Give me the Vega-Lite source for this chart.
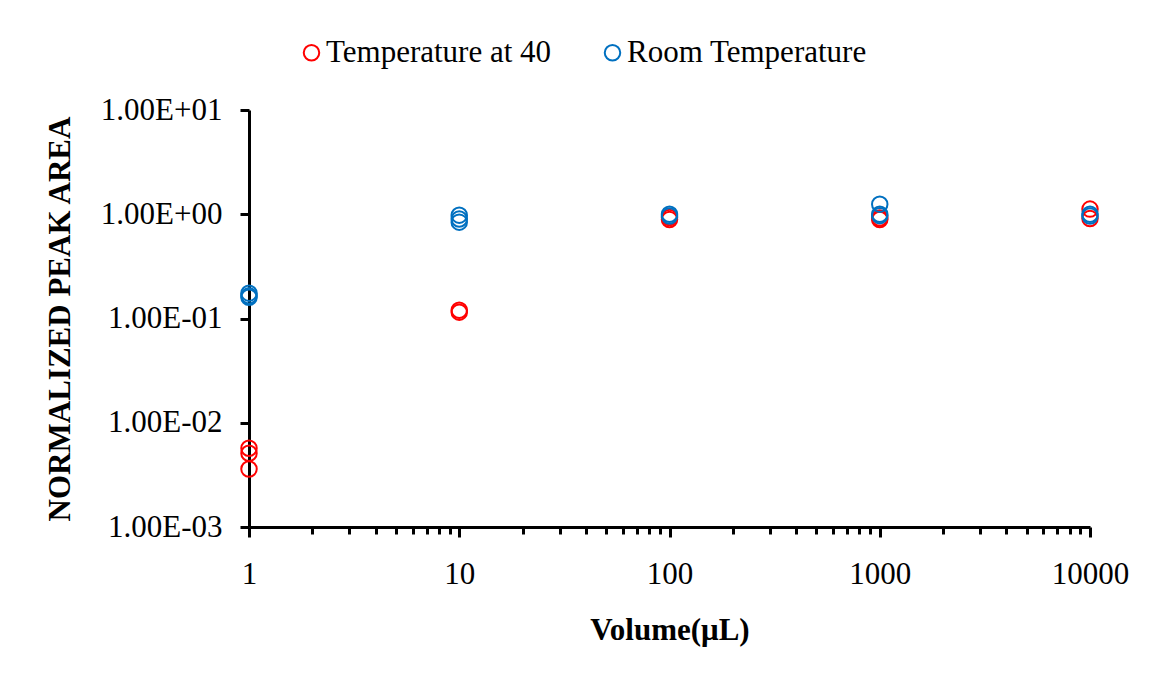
{
  "$schema": "https://vega.github.io/schema/vega-lite/v6.json",
  "autosize": "none",
  "width": 841,
  "height": 417,
  "padding": {"left": 249, "top": 110, "right": 60, "bottom": 150},
  "background": "white",
  "config": {
    "view": {"stroke": null},
    "font": "Liberation Serif",
    "axis": {
      "grid": false,
      "domainColor": "black",
      "domainWidth": 3,
      "tickColor": "black",
      "tickWidth": 3,
      "labelFont": "Liberation Serif",
      "labelFontSize": 31,
      "labelColor": "black",
      "titleFont": "Liberation Serif",
      "titleFontSize": 31,
      "titleFontWeight": "bold",
      "titleColor": "black"
    },
    "legend": {
      "labelFont": "Liberation Serif",
      "labelFontSize": 31,
      "labelColor": "black",
      "labelLimit": 0
    }
  },
  "data": {
    "values": [
      {"series": "Temperature at 40", "volume": 1, "area": 0.0057},
      {"series": "Temperature at 40", "volume": 1, "area": 0.0051},
      {"series": "Temperature at 40", "volume": 1, "area": 0.0036},
      {"series": "Temperature at 40", "volume": 10, "area": 0.12},
      {"series": "Temperature at 40", "volume": 10, "area": 0.115},
      {"series": "Temperature at 40", "volume": 100, "area": 0.93},
      {"series": "Temperature at 40", "volume": 100, "area": 0.89},
      {"series": "Temperature at 40", "volume": 1000, "area": 0.92},
      {"series": "Temperature at 40", "volume": 1000, "area": 0.89},
      {"series": "Temperature at 40", "volume": 10000, "area": 1.12},
      {"series": "Temperature at 40", "volume": 10000, "area": 0.91},
      {"series": "Room Temperature", "volume": 1, "area": 0.175},
      {"series": "Room Temperature", "volume": 1, "area": 0.165},
      {"series": "Room Temperature", "volume": 1, "area": 0.16},
      {"series": "Room Temperature", "volume": 10, "area": 0.98},
      {"series": "Room Temperature", "volume": 10, "area": 0.9},
      {"series": "Room Temperature", "volume": 10, "area": 0.84},
      {"series": "Room Temperature", "volume": 100, "area": 1.0},
      {"series": "Room Temperature", "volume": 100, "area": 0.96},
      {"series": "Room Temperature", "volume": 1000, "area": 1.25},
      {"series": "Room Temperature", "volume": 1000, "area": 1.0},
      {"series": "Room Temperature", "volume": 1000, "area": 0.97},
      {"series": "Room Temperature", "volume": 10000, "area": 1.0},
      {"series": "Room Temperature", "volume": 10000, "area": 0.96}
    ]
  },
  "mark": {"type": "point", "shape": "circle", "filled": false, "size": 240, "strokeWidth": 2, "opacity": 1, "clip": false},
  "encoding": {
    "x": {
      "field": "volume",
      "type": "quantitative",
      "scale": {"type": "log", "domain": [1, 10000], "nice": false},
      "axis": {
        "title": "Volume(μL)",
        "values": [1, 2, 3, 4, 5, 6, 7, 8, 9, 10, 20, 30, 40, 50, 60, 70, 80, 90, 100, 200, 300, 400, 500, 600, 700, 800, 900, 1000, 2000, 3000, 4000, 5000, 6000, 7000, 8000, 9000, 10000],
        "format": "d",
        "labelExpr": "indexof([1, 10, 100, 1000, 10000], datum.value) >= 0 ? datum.label : ''",
        "tickSize": {"condition": {"test": "indexof([1, 10, 100, 1000, 10000], datum.value) >= 0", "value": 10}, "value": 7},
        "labelPadding": 22,
        "labelFlush": false,
        "labelOverlap": false,
        "titlePadding": 26
      }
    },
    "y": {
      "field": "area",
      "type": "quantitative",
      "scale": {"type": "log", "domain": [0.001, 10], "nice": false},
      "axis": {
        "title": "NORMALIZED PEAK AREA",
        "values": [0.001, 0.01, 0.1, 1, 10],
        "labelExpr": "'1.00E' + (round(log(datum.value) / LN10) < 0 ? '-' : '+') + '0' + abs(round(log(datum.value) / LN10))",
        "tickSize": 9,
        "labelPadding": 18,
        "labelFlush": false,
        "titlePadding": 24
      }
    },
    "color": {
      "field": "series",
      "type": "nominal",
      "scale": {"domain": ["Temperature at 40", "Room Temperature"], "range": ["#FF0000", "#0070C0"]},
      "legend": {
        "title": null,
        "orient": "none",
        "direction": "horizontal",
        "legendX": 47,
        "legendY": -73,
        "symbolType": "circle",
        "symbolSize": 240,
        "symbolStrokeWidth": 2,
        "symbolFillColor": "transparent",
        "labelOffset": -1,
        "columnPadding": 45
      }
    }
  }
}
